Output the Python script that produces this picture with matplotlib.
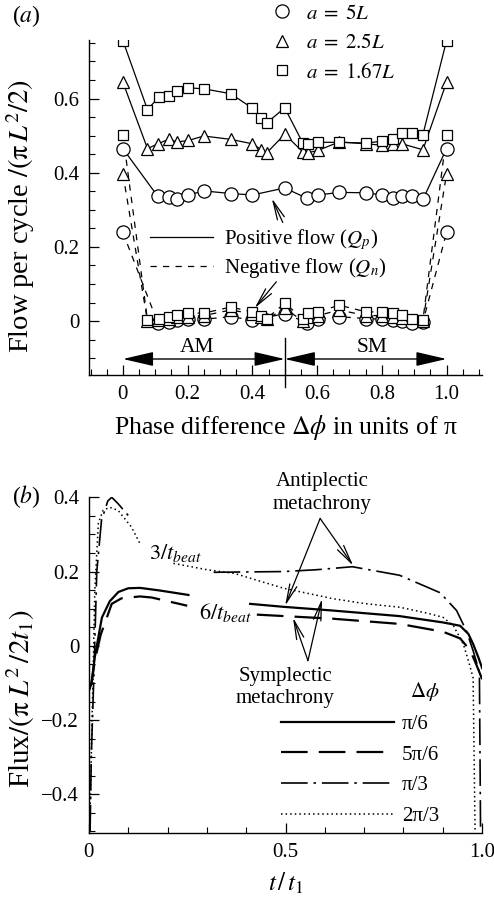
import numpy as np
import matplotlib
matplotlib.use('Agg')
from matplotlib import pyplot as plt
from matplotlib.lines import Line2D
from matplotlib.ticker import MultipleLocator, FixedLocator

plt.rcParams['font.family'] = ['Liberation Serif', 'DejaVu Serif']
plt.rcParams['mathtext.fontset'] = 'stix'

nan = np.nan

# ---- panel (a): flow per cycle vs phase difference ----
x_5L = [0, 0.108, 0.141, 0.168, 0.202, 0.25, 0.333, 0.40, 0.5, 0.569, 0.603,
        0.668, 0.752, 0.801, 0.834, 0.862, 0.894, 0.927, 1.0]
qp_5L = [0.465, 0.336, 0.335, 0.329, 0.34, 0.351, 0.344, 0.34, 0.359, 0.331, 0.34,
         0.347, 0.346, 0.34, 0.333, 0.336, 0.336, 0.328, 0.465]
qn_5L = [0.239, -0.005, -0.002, 0.003, 0.007, 0.005, 0.012, 0.003, 0.02, -0.004, 0.005,
         0.012, 0.007, 0.005, 0.002, 0.0, -0.004, -0.002, 0.239]

x_25L = [0, 0.076, 0.108, 0.141, 0.168, 0.202, 0.25, 0.333, 0.40, 0.428, 0.444, 0.5,
         0.556, 0.571, 0.603, 0.668, 0.752, 0.801, 0.834, 0.862, 0.927, 1.0]
qp_25L = [0.644, 0.465, 0.478, 0.49, 0.483, 0.487, 0.499, 0.49, 0.478, 0.462, 0.453, 0.504,
          0.456, 0.454, 0.46, 0.483, 0.478, 0.474, 0.478, 0.478, 0.462, 0.644]
qn_25L = [0.397, 0.0, 0.002, 0.005, 0.01, 0.012, 0.015, 0.03, 0.02, 0.01, 0.005, 0.035,
          0.0, 0.01, 0.015, 0.03, 0.015, 0.015, 0.01, 0.008, 0.0, 0.397]

x_167L = [0, 0.076, 0.111, 0.141, 0.168, 0.202, 0.252, 0.333, 0.40, 0.428, 0.444, 0.5,
          0.556, 0.571, 0.603, 0.668, 0.752, 0.801, 0.834, 0.862, 0.894, 0.927, 1.0]
qp_167L = [0.756, 0.570, 0.604, 0.606, 0.620, 0.629, 0.626, 0.613, 0.574, 0.548, 0.534, 0.575,
           0.48, 0.478, 0.482, 0.482, 0.48, 0.485, 0.49, 0.506, 0.506, 0.503, 0.756]
qn_167L = [0.502, 0.003, 0.005, 0.01, 0.016, 0.021, 0.022, 0.038, 0.025, 0.015, 0.007, 0.048,
           0.007, 0.021, 0.025, 0.043, 0.025, 0.025, 0.021, 0.016, 0.007, 0.003, 0.502]

# ---- panel (b): flux vs time ----
t_pi6 = [0.0, 0.007, 0.015, 0.033, 0.053, 0.075, 0.10, 0.13, 0.18, 0.253, nan,
         0.41, 0.495, 0.62, 0.79, 0.90, 0.944, 0.965, 0.977, 0.99, 1.0]
f_pi6 = [-0.12, -0.095, -0.03, 0.076, 0.12, 0.145, 0.155, 0.156, 0.149, 0.137, nan,
         0.113, 0.105, 0.095, 0.08, 0.063, 0.054, 0.032, 0.005, -0.03, -0.06]

t_5pi6 = [0.0, 0.007, 0.015, 0.03, 0.058, 0.083, 0.13, 0.16, 0.25, nan,
          0.427, 0.62, 0.79, 0.90, 0.944, 0.97, 0.985, 1.0]
f_5pi6 = [-0.12, -0.1, -0.04, 0.03, 0.113, 0.128, 0.133, 0.13, 0.108, nan,
          0.084, 0.073, 0.059, 0.038, 0.02, -0.013, -0.05, -0.09]

t_pi3 = [0.003, 0.006, 0.012, 0.02, 0.032, 0.048, 0.058, 0.074, 0.104, nan,
         0.317, 0.495, 0.58, 0.67, 0.79, 0.893, 0.935, 0.96, 0.977, 0.993, 0.996]
f_pi3 = [-0.5, -0.3, -0.1, 0.2, 0.338, 0.39, 0.40, 0.383, 0.346, nan,
         0.198, 0.2, 0.205, 0.213, 0.19, 0.143, 0.095, 0.04, -0.013, -0.07, -0.5]

t_2pi3 = [0.002, 0.008, 0.015, 0.024, 0.036, 0.053, 0.074, 0.108, 0.13, nan,
          0.215, 0.30, 0.37, 0.495, 0.62, 0.70, 0.79, 0.86, 0.90, 0.927, 0.952, 0.965, 0.977, 0.982]
f_2pi3 = [-0.5, -0.2, 0.15, 0.33, 0.365, 0.373, 0.365, 0.32, 0.275, nan,
          0.222, 0.205, 0.195, 0.155, 0.127, 0.114, 0.104, 0.088, 0.077, 0.054, 0.005, -0.04, -0.086, -0.5]


def style_axes(ax):
    ax.spines['top'].set_visible(False)
    ax.spines['right'].set_visible(False)
    ax.tick_params(which='both', direction='in', labelsize=15, pad=7)
    ax.tick_params(which='major', length=7, width=0.9)
    ax.tick_params(which='minor', length=4, width=0.8)
    for s in ('left', 'bottom'):
        ax.spines[s].set_linewidth(1.0)


fig = plt.figure(figsize=(4.94, 8.97), dpi=100)

# ================= panel (a) =================
ax1 = fig.add_axes([0.180, 0.582, 0.796, 0.3735])
style_axes(ax1)

series = [(x_5L, qp_5L, qn_5L, 'o', 9.5),
          (x_25L, qp_25L, qn_25L, '^', 9),
          (x_167L, qp_167L, qn_167L, 's', 7.5)]
for xs, qp, qn, mk, ms in series:
    ax1.plot(xs, qn, ls=(0, (5, 5)), color='k', lw=0.9, marker=mk, ms=ms,
             mfc='white', mec='k', mew=0.9, zorder=2)
    ax1.plot(xs, qp, ls='-', color='k', lw=0.9, marker=mk, ms=ms,
             mfc='white', mec='k', mew=0.9, zorder=3)

ax1.set_xlim(-0.105, 1.11)
ax1.set_ylim(-0.145, 0.758)
ax1.xaxis.set_major_locator(FixedLocator([0, 0.2, 0.4, 0.6, 0.8, 1.0]))
ax1.set_xticklabels(['0', '0.2', '0.4', '0.6', '0.8', '1.0'])
ax1.xaxis.set_minor_locator(MultipleLocator(0.05))
ax1.yaxis.set_major_locator(FixedLocator([0, 0.2, 0.4, 0.6]))
ax1.set_yticklabels(['0', '0.2', '0.4', '0.6'])
ax1.yaxis.set_minor_locator(MultipleLocator(0.05))

ax1.set_xlabel(r'Phase difference $\Delta\phi$ in units of π', fontsize=18.5, labelpad=7)
ax1.set_ylabel(r'Flow per cycle $/(\mathrm{\pi}\,L^2/2)$', fontsize=20.5)
ax1.yaxis.set_label_coords(-0.133, 0.475)

# AM / SM arrows
ax1.annotate('', xy=(0.0, -0.102), xytext=(0.5, -0.102),
             arrowprops=dict(arrowstyle='<|-|>,head_length=0.95,head_width=0.22',
                             color='k', lw=1.0, mutation_scale=20, shrinkA=0, shrinkB=0))
ax1.annotate('', xy=(0.5, -0.102), xytext=(1.0, -0.102),
             arrowprops=dict(arrowstyle='<|-|>,head_length=0.95,head_width=0.22',
                             color='k', lw=1.0, mutation_scale=20, shrinkA=0, shrinkB=0))
ax1.axvline(0.5, ymin=-0.035, ymax=0.11, color='k', lw=1.0, clip_on=False)
ax1.text(0.23, -0.07, 'AM', fontsize=15.5, ha='center', va='center')
ax1.text(0.77, -0.07, 'SM', fontsize=15.5, ha='center', va='center')

# pointer arrows
ax1.annotate('', xy=(0.46, 0.331), xytext=(0.494, 0.266),
             arrowprops=dict(arrowstyle='->,head_length=0.9,head_width=0.18',
                             color='k', lw=0.9, mutation_scale=15, shrinkA=0, shrinkB=0))
ax1.annotate('', xy=(0.407, 0.035), xytext=(0.474, 0.106),
             arrowprops=dict(arrowstyle='->,head_length=0.9,head_width=0.18',
                             color='k', lw=0.9, mutation_scale=15, shrinkA=0, shrinkB=0))

# legends
mk_handles = [Line2D([], [], ls='none', marker='o', ms=9.5, mfc='white', mec='k', mew=0.9),
              Line2D([], [], ls='none', marker='^', ms=9, mfc='white', mec='k', mew=0.9),
              Line2D([], [], ls='none', marker='s', ms=7.5, mfc='white', mec='k', mew=0.9)]
leg1 = ax1.legend(mk_handles, [r'$a\;=\;5L$', r'$a\;=\;2.5L$', r'$a\;=\;1.67L$'],
                  loc='upper left', bbox_to_anchor=(272 / 494, 1 - 4 / 897),
                  bbox_transform=fig.transFigure, frameon=False, fontsize=15,
                  handlelength=1.0, handletextpad=0.65, labelspacing=0.47,
                  borderaxespad=0, borderpad=0)
ax1.add_artist(leg1)
ln_handles = [Line2D([], [], ls='-', color='k', lw=0.9),
              Line2D([], [], ls=(0, (5, 5)), color='k', lw=0.9)]
ax1.legend(ln_handles, [r'Positive flow ($Q_p$)', r'Negative flow ($Q_n$)'],
           loc='upper left', bbox_to_anchor=(150 / 494, 1 - 227 / 897),
           bbox_transform=fig.transFigure, frameon=False, fontsize=15,
           handlelength=3.0, handletextpad=0.55, labelspacing=0.22,
           borderaxespad=0, borderpad=0)

fig.text(12 / 494, 1 - 16 / 897, '($a$)', fontsize=17, ha='left', va='center')

# ================= panel (b) =================
ax2 = fig.add_axes([0.180, 0.071, 0.796, 0.3746])
style_axes(ax2)

ax2.plot(t_pi6, f_pi6, color='k', lw=1.6, ls='-', label='π/6')
ax2.plot(t_5pi6, f_5pi6, color='k', lw=1.6, ls=(0, (12, 5)), label='5π/6')
ax2.plot(t_pi3, f_pi3, color='k', lw=1.2, ls=(0, (16, 3.5, 1.5, 3.5)), label='π/3')
ax2.plot(t_2pi3, f_2pi3, color='k', lw=1.1, ls=(0, (1, 2)), label='2π/3')

ax2.set_xlim(0, 1.0)
ax2.set_ylim(-0.505, 0.4)
ax2.xaxis.set_major_locator(FixedLocator([0, 0.5, 1.0]))
ax2.set_xticklabels(['0', '0.5', '1.0'])
ax2.xaxis.set_minor_locator(MultipleLocator(0.1))
ax2.yaxis.set_major_locator(FixedLocator([-0.4, -0.2, 0, 0.2, 0.4]))
ax2.set_yticklabels(['\u22120.4', '\u22120.2', '0', '0.2', '0.4'])
ax2.yaxis.set_minor_locator(MultipleLocator(0.05))

ax2.set_xlabel(r'$t\,/\,t_1$', fontsize=18, labelpad=6)
ax2.set_ylabel(r'Flux$/(\mathrm{\pi}\;L^2\,/2t_1)$', fontsize=21)
ax2.yaxis.set_label_coords(-0.133, 0.40)

ax2.legend(loc='upper left', bbox_to_anchor=(281 / 494, 1 - 680 / 897),
           bbox_transform=fig.transFigure, frameon=False, fontsize=15,
           title=r'$\Delta\phi$', title_fontsize=15, alignment='right',
           handlelength=5.4, handletextpad=0.4, labelspacing=0.54,
           borderaxespad=0, borderpad=0)

ax2.text(0.593, 0.412, 'Antiplectic\nmetachrony', fontsize=15, ha='center', va='center',
         linespacing=1.25, clip_on=False)
ax2.text(0.499, -0.112, 'Symplectic\nmetachrony', fontsize=15, ha='center', va='center',
         linespacing=1.25)
ax2.text(0.219, 0.249, r'$3/t_{beat}$', fontsize=16, ha='center', va='center')
ax2.text(0.346, 0.089, r'$6/t_{beat}$', fontsize=16, ha='center', va='center')

arr = dict(arrowstyle='->,head_length=0.9,head_width=0.18', color='k', lw=0.9,
           mutation_scale=15, shrinkA=0, shrinkB=0)
ax2.annotate('', xy=(0.672, 0.216), xytext=(0.588, 0.343), arrowprops=arr)
ax2.annotate('', xy=(0.499, 0.108), xytext=(0.588, 0.343), arrowprops=arr)
ax2.annotate('', xy=(0.519, 0.076), xytext=(0.557, -0.04), arrowprops=arr)
ax2.annotate('', xy=(0.593, 0.127), xytext=(0.557, -0.04), arrowprops=arr)

fig.text(12 / 494, 1 - 497 / 897, '($b$)', fontsize=17, ha='left', va='center')

plt.savefig('out.png', dpi=100)
